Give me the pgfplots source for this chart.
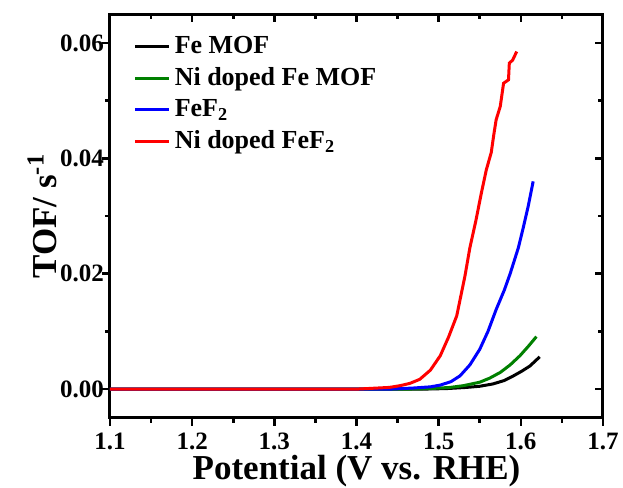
\documentclass[border=0pt]{standalone}
\usepackage{fontspec}
\setmainfont{Liberation Serif}
\usepackage{pgfplots}
\pgfplotsset{compat=1.18}
\definecolor{olgreen}{RGB}{0,128,0}

\begin{document}
\begin{tikzpicture}[font=\bfseries]
% page frame: the axis box is (0,0)--(246.5pt,202pt)
\path[use as bounding box] (-55pt,-35pt) rectangle (256.5pt,209pt);
\pgfplotsset{
  tofax/.style={
    scale only axis, width=246.5pt, height=202pt,
    xmin=1.1, xmax=1.7, ymin=-0.005, ymax=0.065,
    xtick={1.1,1.2,...,1.7}, ytick={0,0.02,0.04,0.06},
    minor x tick num=1, minor y tick num=1,
    scaled y ticks=false, scaled x ticks=false,
    axis line style={line width=1.5pt},
    every tick/.style={line width=1.3pt, black},
    major tick length=4pt, minor tick length=2.5pt,
  }
}
% top and right: ticks inward, no labels
\begin{axis}[tofax, tick align=inside, xtick pos=right, ytick pos=right,
  xticklabels={}, yticklabels={}]
\end{axis}
\begin{axis}[tofax, tick align=outside, xtick pos=left, ytick pos=left,
    /pgf/number format/assume math mode=true,
    tick label style={font=\fontsize{12.5}{14}\selectfont\bfseries},
    xticklabel style={/pgf/number format/.cd, fixed, fixed zerofill, precision=1},
    yticklabel style={xshift=4.5pt, /pgf/number format/.cd, fixed, fixed zerofill, precision=2},
    xlabel={Potential (V vs. RHE)},
    ylabel={TOF/ s\textsuperscript{-1}},
    label style={font=\fontsize{17.5}{20}\selectfont\bfseries},
    xlabel style={yshift=4pt},
    ylabel style={at={(axis description cs:-0.182,0.5)}, anchor=north},
    legend style={at={(0.035,0.965)}, anchor=north west, draw=none, fill=none,
      font=\fontsize{13}{15}\selectfont\bfseries, row sep=1.5pt,
      cells={anchor=west}},
    legend cell align=left,
    legend image post style={line width=1.5pt},
    every axis plot/.append style={line width=1.5pt},
  ]
\addplot[black] coordinates {
  (1.10,0) (1.48,0) (1.51,0.0001) (1.534,0.0003) (1.550,0.0005) (1.566,0.0009)
  (1.580,0.0015) (1.591,0.0023) (1.601,0.0031) (1.611,0.0040) (1.623,0.0056)
};
\addplot[olgreen] coordinates {
  (1.10,0) (1.46,0) (1.49,0.0001) (1.514,0.0003) (1.53,0.0006) (1.550,0.0012)
  (1.562,0.0019) (1.575,0.0029) (1.587,0.0042) (1.599,0.0058) (1.609,0.0074)
  (1.619,0.0091)
};
\addplot[blue] coordinates {
  (1.10,0) (1.44,0) (1.47,0.0002) (1.49,0.0004) (1.502,0.0007) (1.515,0.0013)
  (1.526,0.0023) (1.538,0.0042) (1.550,0.0069) (1.560,0.0100) (1.570,0.0138)
  (1.580,0.0172) (1.587,0.0200) (1.597,0.0245) (1.603,0.0280) (1.609,0.0317)
  (1.615,0.0360)
};
\addplot[red] coordinates {
  (1.10,0) (1.40,0) (1.44,0.0003) (1.453,0.0006) (1.465,0.0010) (1.477,0.0017)
  (1.490,0.0033) (1.502,0.0058) (1.512,0.0090) (1.522,0.0127) (1.532,0.0196)
  (1.538,0.0245) (1.545,0.0290) (1.552,0.0340) (1.558,0.0380) (1.564,0.0410)
  (1.567,0.0440) (1.570,0.0467) (1.575,0.0490) (1.579,0.0530) (1.585,0.0536)
  (1.586,0.0565) (1.590,0.0570) (1.595,0.0585)
};
\legend{Fe MOF, Ni doped Fe MOF, FeF\textsubscript{2}, Ni doped FeF\textsubscript{2}}
\end{axis}
\end{tikzpicture}
\end{document}
